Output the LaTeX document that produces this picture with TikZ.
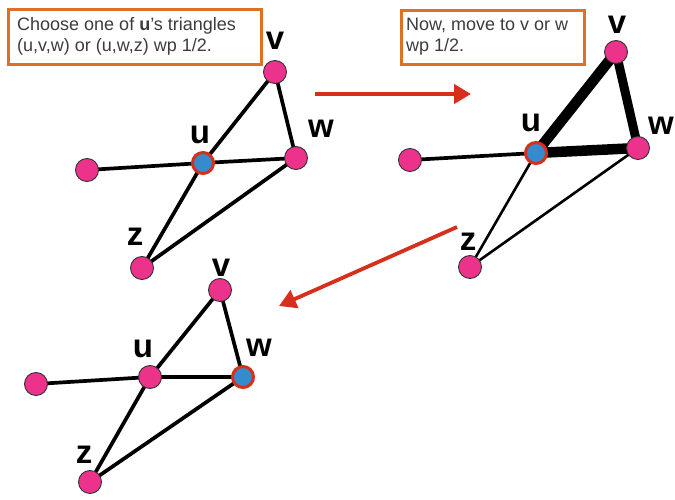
\documentclass[tikz,border=0pt]{standalone}
\usepackage{fontspec}
\setmainfont{Liberation Sans}
\usetikzlibrary{arrows.meta}
\definecolor{vpink}{RGB}{236,50,138}
\definecolor{vblue}{RGB}{52,140,205}
\definecolor{vred}{RGB}{214,48,28}
\definecolor{boxorange}{RGB}{224,112,36}
\definecolor{txtgray}{RGB}{60,60,60}
\begin{document}
\begin{tikzpicture}[x=1pt,y=-1pt,
  vert/.style={circle,fill=vpink,draw=black!80,line width=0.9pt,minimum size=23pt,inner sep=0pt},
  curvert/.style={circle,fill=vblue,draw=vred,line width=3pt,minimum size=21pt,inner sep=0pt},
  vlabel/.style={font=\fontsize{33}{33}\selectfont\bfseries,inner sep=0pt},
  edge/.style={line width=3.7pt,black},
  heavy/.style={line width=10.5pt,black},
  light/.style={line width=2.6pt,black},
  notebox/.style={draw=boxorange,line width=2.6pt,inner sep=0pt},
  notetext/.style={font=\fontsize{18}{21}\selectfont,text=txtgray,align=left,anchor=north west,inner sep=0pt},
  move/.style={draw=vred,line width=4.5pt,-{Triangle[length=17pt,width=19pt]}}
]
\useasboundingbox (0,0) rectangle (675,500);

% --- first graph: walker at u ---
\coordinate (a1) at (87,170);
\coordinate (u1) at (203,163);
\coordinate (v1) at (275,72);
\coordinate (w1) at (296,158);
\coordinate (z1) at (142,268);
\draw[edge] (a1) -- (u1);
\draw[edge] (u1) -- (v1);
\draw[edge] (v1) -- (w1);
\draw[edge] (u1) -- (w1);
\draw[edge] (u1) -- (z1);
\draw[edge] (z1) -- (w1);
\node[vert] (na1) at (a1) {};
\node[curvert] (nu1) at (u1) {};
\node[vert] (nv1) at (v1) {};
\node[vert] (nw1) at (w1) {};
\node[vert] (nz1) at (z1) {};
\node[vlabel] (lu1) at (200,135) {u};
\node[vlabel] (lv1) at (275,41) {v};
\node[vlabel] (lw1) at (321,129) {w};
\node[vlabel] (lz1) at (135,237) {z};

\node[notebox,minimum width=253pt,minimum height=55pt,anchor=north west] (box1) at (7,8) {};
\node[notetext] (t1) at (17,17) {Choose one of \textbf{u}'s triangles\\(u,v,w) or (u,w,z) wp 1/2.};

% --- second graph: triangle (u,v,w) chosen ---
\coordinate (a2) at (410,160);
\coordinate (u2) at (536,153);
\coordinate (v2) at (616,52);
\coordinate (w2) at (638,148);
\coordinate (z2) at (470,267);
\draw[edge] (a2) -- (u2);
\draw[heavy] (u2) -- (v2);
\draw[heavy,line width=9pt] (v2) -- (w2);
\draw[heavy] (u2) -- (w2);
\draw[light] (u2) -- (z2);
\draw[light] (z2) -- (w2);
\node[vert] (na2) at (a2) {};
\node[curvert] (nu2) at (u2) {};
\node[vert] (nv2) at (v2) {};
\node[vert] (nw2) at (w2) {};
\node[vert] (nz2) at (z2) {};
\node[vlabel] (lu2) at (531,123) {u};
\node[vlabel] (lv2) at (617,25) {v};
\node[vlabel] (lw2) at (661,126) {w};
\node[vlabel] (lz2) at (468,242) {z};

\node[notebox,minimum width=183pt,minimum height=54pt,anchor=north west] (box2) at (400,9) {};
\node[notetext] (t2) at (406,18) {Now, move to v or w\\wp 1/2.};

% --- third graph: walker moved to w ---
\coordinate (a3) at (36,384);
\coordinate (u3) at (150,377);
\coordinate (v3) at (220,290);
\coordinate (w3) at (243,377);
\coordinate (z3) at (90,482);
\draw[edge] (a3) -- (u3);
\draw[edge] (u3) -- (v3);
\draw[edge] (v3) -- (w3);
\draw[edge] (u3) -- (w3);
\draw[edge] (u3) -- (z3);
\draw[edge] (z3) -- (w3);
\node[vert] (na3) at (a3) {};
\node[vert] (nu3) at (u3) {};
\node[vert] (nv3) at (v3) {};
\node[curvert] (nw3) at (w3) {};
\node[vert] (nz3) at (z3) {};
\node[vlabel] (lu3) at (143,349) {u};
\node[vlabel] (lv3) at (221,268) {v};
\node[vlabel] (lw3) at (259,348) {w};
\node[vlabel] (lz3) at (84,455) {z};

% --- step arrows ---
\coordinate (s1) at (315,94);
\coordinate (e1) at (471,94);
\coordinate (s2) at (457,227);
\coordinate (e2) at (279,306);
\draw[move] (s1) -- (e1);
\draw[move,line width=3.8pt] (s2) -- (e2);
\end{tikzpicture}
\end{document}
